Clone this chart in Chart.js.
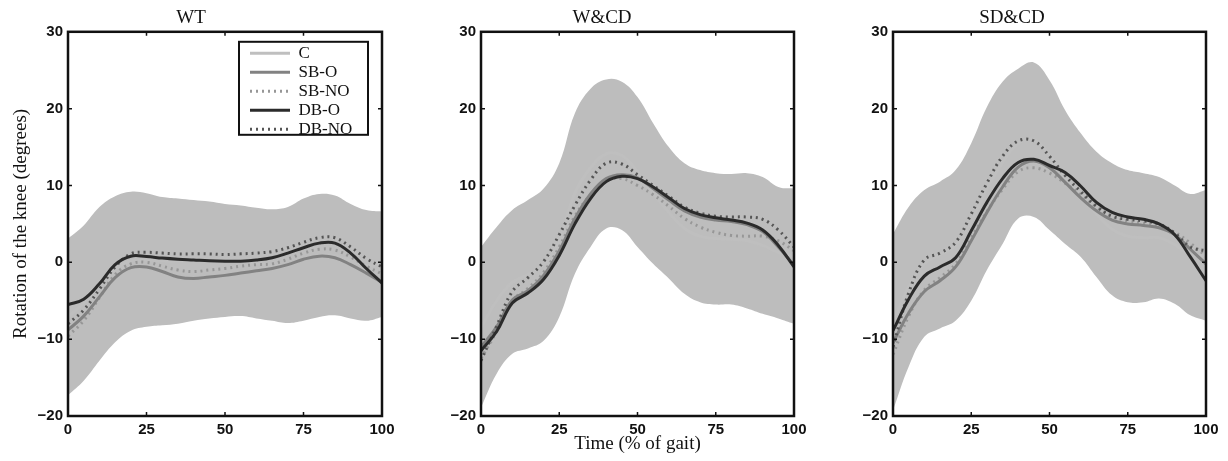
<!DOCTYPE html>
<html>
<head>
<meta charset="utf-8">
<script src="https://cdn.jsdelivr.net/npm/chart.js@4.4.1/dist/chart.umd.min.js"></script>
<style>
  html, body { margin: 0; padding: 0; background: #fff; }
  #fig { position: relative; width: 1228px; height: 461px; overflow: hidden; }
  #fig canvas { position: absolute; top: 0; }
</style>
</head>
<body>
<div id="fig">
  <canvas id="wt" width="410" height="461" style="left:0px"></canvas>
  <canvas id="wcd" width="410" height="461" style="left:410px"></canvas>
  <canvas id="sdcd" width="410" height="461" style="left:818px"></canvas>
</div>
<script>
// % of gait cycle, one sample every 5%
const gaitPct = [0, 5, 10, 15, 20, 25, 30, 35, 40, 45, 50, 55, 60, 65, 70, 75, 80, 85, 90, 95, 100];
const panelTitles = ['WT', 'W&CD', 'SD&CD'];
const seriesNames = ['C', 'SB-O', 'SB-NO', 'DB-O', 'DB-NO'];

// WT
const wtBandUp = [3.1, 4.8, 7.2, 8.6, 9.2, 9.0, 8.5, 8.3, 8.1, 7.9, 7.6, 7.4, 7.1, 6.9, 7.2, 8.3, 8.9, 8.7, 7.6, 6.8, 6.6];
const wtBandLo = [-17.3, -15.4, -12.8, -10.4, -8.9, -8.4, -8.2, -8.0, -7.6, -7.3, -7.1, -7.0, -7.3, -7.6, -7.9, -7.6, -7.1, -6.9, -7.3, -7.6, -7.1];
const wtC    = [-7.1, -5.3, -2.8, -0.9, 0.2, 0.3, 0.2, 0.2, 0.3, 0.3, 0.3, 0.2, -0.1, -0.4, -0.4, 0.4, 0.9, 0.9, 0.2, -0.4, -0.3];
const wtSBO  = [-8.8, -7.0, -4.5, -2.0, -0.7, -0.6, -1.2, -1.9, -2.1, -1.9, -1.7, -1.4, -1.1, -0.8, -0.3, 0.4, 0.8, 0.6, -0.3, -1.4, -2.6];
const wtSBNO = [-9.6, -7.6, -4.6, -1.6, -0.2, 0.0, -0.5, -1.0, -1.2, -1.0, -0.8, -0.5, -0.3, -0.2, 0.4, 1.2, 1.7, 1.6, 0.7, -0.5, -1.5];
const wtDBO  = [-5.5, -4.8, -2.8, -0.3, 0.8, 0.75, 0.55, 0.4, 0.3, 0.2, 0.15, 0.15, 0.3, 0.6, 1.2, 1.9, 2.5, 2.5, 1.2, -0.8, -2.7];
const wtDBNO = [-8.0, -6.2, -3.5, -0.6, 1.1, 1.3, 1.2, 1.1, 1.1, 1.1, 1.0, 1.1, 1.2, 1.4, 1.9, 2.6, 3.2, 3.2, 2.0, 0.5, -0.6];

// W&CD
const wcdBandUp = [2.0, 4.6, 6.8, 8.1, 9.6, 12.9, 19.4, 22.6, 23.8, 23.5, 21.5, 18.1, 15.0, 12.9, 12.0, 11.6, 11.5, 11.6, 11.1, 9.8, 9.6];
const wcdBandLo = [-18.9, -14.5, -11.9, -11.2, -10.2, -7.1, -1.5, 2.0, 4.4, 4.2, 2.0, -0.2, -2.1, -4.1, -5.2, -5.5, -5.5, -6.0, -6.7, -7.3, -8.0];
const wcdC    = [-8.5, -5.0, -2.6, -1.6, -0.3, 2.9, 9.0, 12.3, 14.1, 13.9, 11.8, 9.0, 6.5, 4.4, 3.4, 3.1, 3.0, 2.8, 2.2, 1.3, 0.8];
const wcdSBO  = [-11.0, -8.4, -4.9, -3.7, -1.7, 1.5, 5.7, 8.9, 10.9, 11.4, 11.0, 9.6, 8.1, 6.7, 5.9, 5.5, 5.3, 4.9, 4.0, 2.0, -0.4];
const wcdSBNO = [-12.5, -9.0, -5.0, -3.4, -1.3, 2.0, 6.0, 8.8, 10.6, 10.9, 10.0, 8.8, 7.3, 5.7, 4.6, 3.9, 3.5, 3.4, 3.4, 2.8, 1.5];
const wcdDBO  = [-11.5, -9.0, -5.3, -4.0, -2.2, 0.9, 5.0, 8.3, 10.5, 11.2, 10.9, 9.8, 8.4, 7.0, 6.2, 5.8, 5.5, 5.1, 4.2, 2.2, -0.6];
const wcdDBNO = [-12.8, -8.3, -3.8, -2.0, 0.1, 3.6, 7.4, 10.7, 12.9, 12.8, 11.4, 10.0, 8.6, 7.2, 6.4, 6.0, 5.9, 5.9, 5.6, 4.2, 2.0];

// SD&CD
const sdcdBandUp = [3.7, 7.2, 9.4, 10.5, 12.0, 15.5, 20.2, 23.5, 25.2, 26.0, 23.7, 19.8, 16.8, 14.4, 12.9, 12.0, 11.6, 11.1, 10.0, 8.9, 9.4];
const sdcdBandLo = [-19.3, -13.6, -9.7, -8.6, -7.6, -5.0, -1.0, 2.4, 5.7, 5.9, 4.2, 2.4, 0.7, -1.9, -4.3, -5.2, -5.2, -4.7, -5.4, -6.9, -7.6];
const sdcdC    = [-7.8, -3.2, -0.2, 1.0, 2.2, 5.3, 9.6, 13.0, 15.5, 16.0, 14.0, 11.1, 8.8, 6.3, 4.3, 3.4, 3.2, 3.2, 2.3, 1.0, 0.9];
const sdcdSBO  = [-10.5, -6.6, -3.8, -2.4, -0.6, 2.8, 6.5, 9.8, 12.4, 13.2, 12.3, 10.4, 8.4, 6.7, 5.5, 5.0, 4.8, 4.5, 3.6, 1.7, -0.2];
const sdcdSBNO = [-12.0, -7.0, -3.6, -2.0, -0.2, 3.2, 6.6, 9.5, 11.8, 12.3, 11.6, 10.3, 8.8, 7.2, 6.0, 5.4, 5.1, 4.7, 3.9, 2.5, 0.8];
const sdcdDBO  = [-8.9, -4.8, -1.8, -0.6, 0.6, 4.1, 7.8, 10.9, 13.0, 13.4, 12.6, 11.7, 9.9, 7.8, 6.5, 5.9, 5.6, 5.0, 3.6, 0.7, -2.4];
const sdcdDBNO = [-11.0, -4.0, 0.3, 1.2, 2.6, 6.3, 10.3, 13.8, 15.8, 15.8, 13.8, 11.3, 9.2, 7.3, 6.0, 5.6, 5.4, 5.0, 3.8, 2.0, 1.5];

const serif = 'Liberation Serif, Times New Roman, serif';
const sans = 'Liberation Sans, Arial, sans-serif';

const pts = arr => arr.map((v, i) => ({ x: gaitPct[i], y: v }));

// box outline + inward tick marks, matlab style
const frame = {
  id: 'frame',
  afterDatasetsDraw(chart) {
    const { ctx, chartArea: a, scales: { x, y } } = chart;
    ctx.save();
    ctx.strokeStyle = '#111';
    ctx.lineWidth = 1.5;
    ctx.beginPath();
    x.ticks.forEach(t => {
      const px = x.getPixelForValue(t.value);
      ctx.moveTo(px, a.bottom); ctx.lineTo(px, a.bottom - 4);
      ctx.moveTo(px, a.top); ctx.lineTo(px, a.top + 4);
    });
    y.ticks.forEach(t => {
      const py = y.getPixelForValue(t.value);
      ctx.moveTo(a.left, py); ctx.lineTo(a.left + 4, py);
      ctx.moveTo(a.right, py); ctx.lineTo(a.right - 4, py);
    });
    ctx.stroke();
    ctx.lineWidth = 2.5;
    ctx.strokeRect(a.left, a.top, a.width, a.height);
    ctx.restore();
  }
};

// move the legend to the top right corner of the plot and box it
const legendBox = {
  id: 'legendBox',
  afterLayout(chart) {
    const lg = chart.legend;
    if (!lg || !lg.options.display) return;
    const a = chart.chartArea;
    lg.left = a.right - 134;
    lg.right = lg.left + lg.width;
    lg.top = a.top + 11;
    lg.bottom = lg.top + lg.height;
  },
  afterDraw(chart) {
    const lg = chart.legend;
    if (!lg || !lg.options.display) return;
    const a = chart.chartArea;
    const ctx = chart.ctx;
    ctx.save();
    ctx.strokeStyle = '#111';
    ctx.lineWidth = 2;
    ctx.strokeRect(a.right - 143, a.top + 10, 129, 93);
    ctx.restore();
  }
};

// legend samples keep the dataset's dash pattern and width
const legendItems = chart =>
  Chart.defaults.plugins.legend.labels.generateLabels(chart).map(item => {
    const ds = chart.data.datasets[item.datasetIndex];
    item.lineDash = ds.borderDash || [];
    item.lineWidth = ds.borderWidth;
    item.strokeStyle = ds.borderColor;
    return item;
  });

function makePanel(id, title, s, o) {
  const dotted = [2, 4];
  const datasets = [
    { label: seriesNames[0], data: pts(s.c), borderColor: '#bfbfbf', borderWidth: 3, order: 5 },
    { label: seriesNames[1], data: pts(s.sbo), borderColor: '#828282', borderWidth: 3, order: 3 },
    { label: seriesNames[2], data: pts(s.sbno), borderColor: '#979797', borderWidth: 3, borderDash: dotted, order: 4 },
    { label: seriesNames[3], data: pts(s.dbo), borderColor: '#2b2b2b', borderWidth: 3, order: 1 },
    { label: seriesNames[4], data: pts(s.dbno), borderColor: '#555555', borderWidth: 3, borderDash: dotted, order: 2 },
    { label: 'band', data: pts(s.up), borderWidth: 0, backgroundColor: '#bdbdbd', fill: '+1', order: 10 },
    { label: 'band-lo', data: pts(s.lo), borderWidth: 0, fill: false, order: 11 }
  ];

  new Chart(document.getElementById(id), {
    type: 'line',
    data: { datasets },
    options: {
      responsive: false,
      animation: false,
      events: [],
      layout: { padding: { left: 0, right: o.padRight, top: 0, bottom: 0 } },
      elements: { point: { radius: 0 }, line: { tension: 0.4, fill: false } },
      scales: {
        x: {
          type: 'linear', min: 0, max: 100,
          grid: { display: false, drawTicks: false },
          border: { display: false },
          ticks: { stepSize: 25, padding: 5, color: '#111', font: { family: sans, size: 15, weight: 'bold' } },
          title: { display: o.xTitle, text: 'Time (% of gait)', color: '#111', font: { family: serif, size: 19 }, padding: { top: 0, bottom: 6 } },
          afterFit: sc => { sc.height = 45; }
        },
        y: {
          min: -20, max: 30,
          grid: { display: false, drawTicks: false },
          border: { display: false },
          ticks: {
            stepSize: 10, padding: 5, color: '#111',
            font: { family: sans, size: 15, weight: 'bold' },
            callback: v => v < 0 ? '\u2212' + Math.abs(v) : String(v)
          },
          title: { display: o.yTitle, text: 'Rotation of the knee (degrees)', color: '#111', font: { family: serif, size: 19 }, padding: { top: 10, bottom: 0 } },
          afterFit: sc => { sc.width = o.yWidth; }
        }
      },
      plugins: {
        title: { display: true, text: title, color: '#111', font: { family: serif, size: 19, weight: 'normal' }, padding: { top: 7, bottom: 2 } },
        tooltip: { enabled: false },
        legend: {
          display: o.legend,
          position: 'chartArea',
          align: 'start',
          maxHeight: 100,
          labels: {
            usePointStyle: true,
            pointStyle: 'line',
            pointStyleWidth: 40,
            padding: 2,
            color: '#111',
            font: { family: serif, size: 17 },
            generateLabels: legendItems,
            filter: item => item.datasetIndex < 5,
            sort: (a, b) => a.datasetIndex - b.datasetIndex
          }
        }
      }
    },
    plugins: [frame, legendBox]
  });
}

makePanel('wt', panelTitles[0],
  { up: wtBandUp, lo: wtBandLo, c: wtC, sbo: wtSBO, sbno: wtSBNO, dbo: wtDBO, dbno: wtDBNO },
  { yWidth: 68, padRight: 28, legend: true, xTitle: false, yTitle: true });
makePanel('wcd', panelTitles[1],
  { up: wcdBandUp, lo: wcdBandLo, c: wcdC, sbo: wcdSBO, sbno: wcdSBNO, dbo: wcdDBO, dbno: wcdDBNO },
  { yWidth: 71, padRight: 26, legend: false, xTitle: true, yTitle: false });
makePanel('sdcd', panelTitles[2],
  { up: sdcdBandUp, lo: sdcdBandLo, c: sdcdC, sbo: sdcdSBO, sbno: sdcdSBNO, dbo: sdcdDBO, dbno: sdcdDBNO },
  { yWidth: 75, padRight: 22, legend: false, xTitle: false, yTitle: false });
</script>
</body>
</html>
